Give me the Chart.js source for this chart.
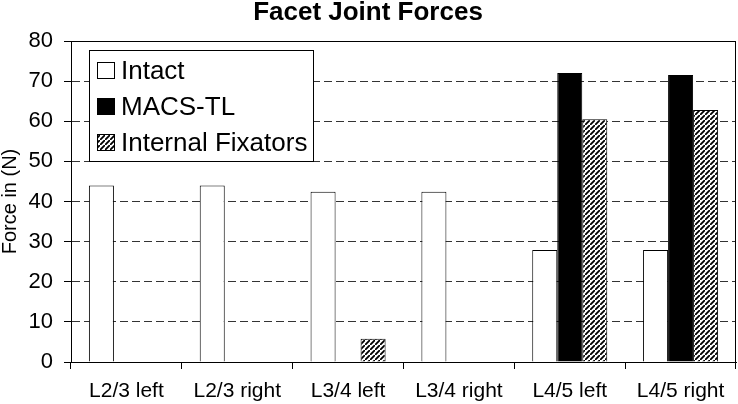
<!DOCTYPE html>
<html>
<head>
<meta charset="utf-8">
<script src="https://cdn.jsdelivr.net/npm/chart.js@4.4.1/dist/chart.umd.min.js"></script>
<style>
  html, body { margin: 0; padding: 0; background: #fff; }
  #wrap { width: 738px; height: 404px; }
</style>
</head>
<body>
<div id="wrap"><canvas id="forceChart" width="738" height="404"></canvas></div>
<script>
const levels = ['L2/3 left', 'L2/3 right', 'L3/4 left', 'L3/4 right', 'L4/5 left', 'L4/5 right'];
const intact = [44, 44, 42.4, 42.4, 27.9, 27.9];
const macsTL = [null, null, null, null, 72.0, 71.5];
const fixators = [null, null, 5.8, null, 60.5, 62.8];
const yTicks = [0, 10, 20, 30, 40, 50, 60, 70, 80];

const FONT = "'Liberation Sans', Arial, sans-serif";

// diagonal hatch for the internal fixators
function makeHatch() {
    const s = 5;
    const c = document.createElement('canvas');
    c.width = s; c.height = s;
    const g = c.getContext('2d');
    g.fillStyle = '#fff';
    g.fillRect(0, 0, s, s);
    g.strokeStyle = '#000';
    g.lineWidth = 1.8;
    g.beginPath();
    g.moveTo(-1, s + 1); g.lineTo(s + 1, -1);
    g.moveTo(-s - 1, 1); g.lineTo(1, -s - 1);
    g.moveTo(s - 1, 2 * s + 1); g.lineTo(2 * s + 1, s - 1);
    g.stroke();
    return g.createPattern(c, 'repeat');
}
const hatch = makeHatch();

// legend box inside the plot, and a solid frame round the plot area
const boxLegend = {
    id: 'boxLegend',
    afterDatasetsDraw(chart) {
        const ctx = chart.ctx;
        const x0 = 89.5, y0 = 50.5, w = 224, h = 111;
        ctx.save();
        ctx.fillStyle = '#fff';
        ctx.fillRect(x0, y0, w, h);
        ctx.strokeStyle = '#000';
        ctx.lineWidth = 1;
        ctx.strokeRect(x0, y0, w, h);
        ctx.font = '26px ' + FONT;
        ctx.textBaseline = 'alphabetic';
        chart.data.datasets.forEach((ds, i) => {
            const sy = 62.5 + i * 36;
            ctx.fillStyle = ds.backgroundColor;
            ctx.fillRect(97.5, sy, 17, 16);
            ctx.strokeStyle = '#000';
            ctx.strokeRect(97.5, sy, 17, 16);
            ctx.fillStyle = '#000';
            ctx.fillText(ds.label, 121, 79 + i * 36);
        });
        ctx.restore();
    },
    afterDraw(chart) {
        const a = chart.chartArea;
        const ctx = chart.ctx;
        ctx.save();
        ctx.strokeStyle = '#000';
        ctx.lineWidth = 1;
        ctx.strokeRect(Math.round(a.left) + 0.5, Math.round(a.top) + 0.5,
            Math.round(a.right - a.left) - 1, Math.round(a.bottom - a.top));
        ctx.restore();
    }
};

const ctx = document.getElementById('forceChart').getContext('2d');
const forceChart = new Chart(ctx, {
    type: 'bar',
    data: {
        labels: levels,
        datasets: [{
            label: 'Intact',
            data: intact,
            backgroundColor: '#fff',
            borderColor: '#000',
            borderWidth: 1
        }, {
            label: 'MACS-TL',
            data: macsTL,
            backgroundColor: '#000',
            borderColor: '#000',
            borderWidth: 1
        }, {
            label: 'Internal Fixators',
            data: fixators,
            backgroundColor: hatch,
            borderColor: '#000',
            borderWidth: 1
        }]
    },
    options: {
        responsive: false,
        animation: false,
        devicePixelRatio: 1,
        categoryPercentage: 0.677,
        barPercentage: 1,
        layout: { padding: { left: 0, right: 2, top: 0, bottom: 0 } },
        plugins: {
            legend: { display: false },
            tooltip: { enabled: false },
            title: {
                display: true,
                text: 'Facet Joint Forces',
                color: '#000',
                font: { family: FONT, size: 26, weight: 'bold', lineHeight: 1.2 },
                padding: { top: -3, bottom: 12.8 }
            }
        },
        scales: {
            x: {
                afterFit(scale) { scale.height = 42; },
                grid: {
                    offset: true,
                    drawOnChartArea: false,
                    tickLength: 7,
                    tickColor: '#000',
                    color: '#000'
                },
                border: { color: '#000', width: 1 },
                ticks: {
                    color: '#000',
                    padding: 10,
                    maxRotation: 0,
                    font: { family: FONT, size: 21 }
                }
            },
            y: {
                min: 0,
                max: 80,
                afterFit(scale) { scale.width = 71; },
                afterBuildTicks(scale) { scale.ticks = yTicks.map(v => ({ value: v })); },
                grid: {
                    color: '#333',
                    lineWidth: 1,
                    tickLength: 7,
                    tickColor: '#000'
                },
                border: { color: '#000', width: 1, dash: [8, 4] },
                ticks: {
                    color: '#000',
                    padding: 11,
                    font: { family: FONT, size: 22 }
                },
                title: {
                    display: true,
                    text: 'Force in (N)',
                    color: '#000',
                    padding: 0,
                    font: { family: FONT, size: 20, lineHeight: 1 }
                }
            }
        }
    },
    plugins: [boxLegend]
});
</script>
</body>
</html>
